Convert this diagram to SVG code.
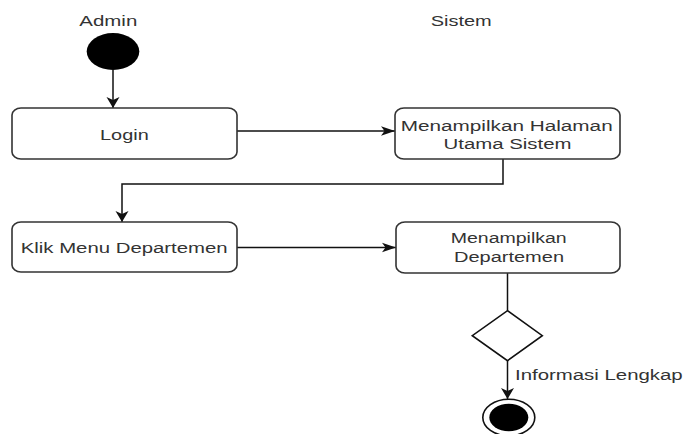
<svg xmlns="http://www.w3.org/2000/svg" width="685" height="434" viewBox="0 0 685 434">
<style>
  .box { fill: #ffffff; stroke: #333333; stroke-width: 1.6; }
  .lbl { font-family: "Liberation Sans", Arial, sans-serif; font-size: 15.5px; fill: #333333; }
  .mid { text-anchor: middle; }
  .conn { fill: none; stroke: #111111; stroke-width: 1.5; }
  .solid { fill: #000000; }
</style>
<defs>
  <marker id="arrowV" markerUnits="userSpaceOnUse" markerWidth="16" markerHeight="14" refX="8" refY="12" orient="0" viewBox="0 0 16 14">
    <path d="M8,12 L1.5,1 L8,4 L14.5,1 Z" fill="#111111"/>
  </marker>
  <marker id="arrowH" markerUnits="userSpaceOnUse" markerWidth="16" markerHeight="12" refX="15" refY="6" orient="0" viewBox="0 0 16 12">
    <path d="M15,6 L1,1.2 L4.5,6 L1,10.8 Z" fill="#111111"/>
  </marker>
</defs>

<g id="lane-labels">
  <text class="lbl mid" x="108.3" y="26" textLength="58" lengthAdjust="spacingAndGlyphs">Admin</text>
  <text class="lbl mid" x="461.2" y="26" textLength="61" lengthAdjust="spacingAndGlyphs">Sistem</text>
</g>

<g id="connectors">
  <path class="conn" d="M113,70 V108" marker-end="url(#arrowV)"/>
  <path class="conn" d="M237,131 H395" marker-end="url(#arrowH)"/>
  <path class="conn" d="M503,159 V184 H122 V222" marker-end="url(#arrowV)"/>
  <path class="conn" d="M237,247.5 H396" marker-end="url(#arrowH)"/>
  <path class="conn" d="M507.5,273 V310.7"/>
  <path class="conn" d="M507.5,360.7 V399" marker-end="url(#arrowV)"/>
  <text class="lbl" x="515" y="380" textLength="167.7" lengthAdjust="spacingAndGlyphs">Informasi Lengkap</text>
</g>

<g id="start">
  <ellipse class="solid" cx="113" cy="51.5" rx="26.3" ry="18.5"/>
</g>

<g id="login">
  <rect class="box" x="12" y="108" width="225" height="51" rx="9" ry="7"/>
  <text class="lbl mid" x="124.4" y="140" textLength="48.7" lengthAdjust="spacingAndGlyphs">Login</text>
</g>

<g id="halaman-utama">
  <rect class="box" x="395" y="108" width="225" height="51" rx="9" ry="7"/>
  <text class="lbl mid" x="506.7" y="130.7" textLength="212" lengthAdjust="spacingAndGlyphs">Menampilkan Halaman</text>
  <text class="lbl mid" x="507.5" y="149" textLength="128" lengthAdjust="spacingAndGlyphs">Utama Sistem</text>
</g>

<g id="klik-menu">
  <rect class="box" x="12" y="222" width="225" height="50" rx="9" ry="7"/>
  <text class="lbl mid" x="124.2" y="253.3" textLength="207" lengthAdjust="spacingAndGlyphs">Klik Menu Departemen</text>
</g>

<g id="tampil-departemen">
  <rect class="box" x="396" y="222" width="224" height="51" rx="9" ry="7"/>
  <text class="lbl mid" x="508.7" y="243.3" textLength="116" lengthAdjust="spacingAndGlyphs">Menampilkan</text>
  <text class="lbl mid" x="509" y="261.7" textLength="110" lengthAdjust="spacingAndGlyphs">Departemen</text>
</g>

<g id="decision">
  <polygon class="box" points="507.5,310.7 542.3,335.7 507.5,360.7 472.3,335.7" style="stroke:#111111"/>
</g>

<g id="end">
  <ellipse cx="508.8" cy="417.5" rx="26" ry="18.3" fill="#ffffff" stroke="#111111" stroke-width="1.6"/>
  <ellipse class="solid" cx="508.8" cy="417.5" rx="19.5" ry="13.8"/>
</g>
</svg>
